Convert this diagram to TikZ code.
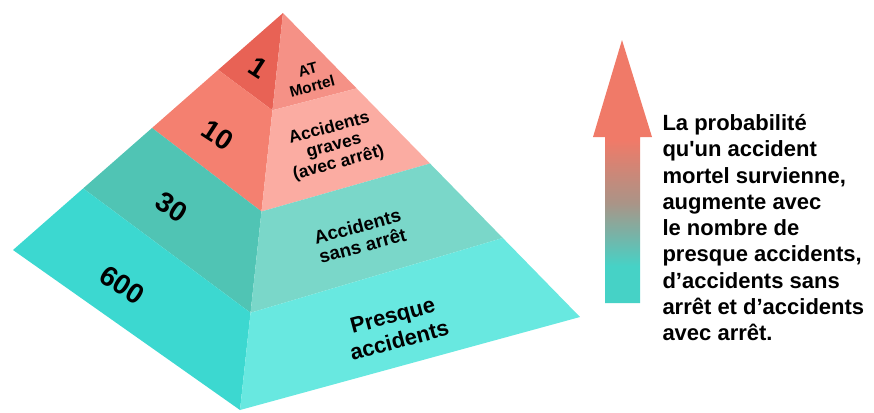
\documentclass[tikz,border=0pt]{standalone}
\usepackage{fontspec}
\setmainfont{Liberation Sans}
\usepackage{tikz}
\usetikzlibrary{calc}
\tikzset{every picture/.style={line width=0.75pt}}

\definecolor{topL}{RGB}{232,98,85}
\definecolor{topR}{RGB}{245,145,134}
\definecolor{graveL}{RGB}{244,128,112}
\definecolor{graveR}{RGB}{251,172,162}
\definecolor{sansL}{RGB}{80,196,180}
\definecolor{sansR}{RGB}{122,215,201}
\definecolor{presqueL}{RGB}{60,216,208}
\definecolor{presqueR}{RGB}{104,232,224}
\definecolor{arrowtop}{RGB}{240,122,104}
\definecolor{arrowmid}{RGB}{170,148,135}
\definecolor{arrowbot}{RGB}{70,210,198}

\pgfdeclareverticalshading{probashade}{100bp}{color(0bp)=(arrowbot); color(32bp)=(arrowbot); color(44bp)=(arrowmid); color(56bp)=(arrowtop); color(100bp)=(arrowtop)}

\tikzset{
  numlabel/.style={font=\bfseries\fontsize{21}{24}\selectfont, rotate=-33},
  facelabel/.style 2 args={font=\bfseries\fontsize{#1}{#2}\selectfont, align=center, rotate=15, inner sep=0pt},
}

\begin{document}
\begin{tikzpicture}[x=0.75pt,y=0.75pt,yscale=-1,xscale=1]
		\path[use as bounding box] (0,0) rectangle (874,412);
		
		%corners of the pyramid
		\coordinate (apex) at (283,13);
		\coordinate (left) at (13,250);
		\coordinate (bottom) at (240,410);
		\coordinate (right) at (580,317);
		
		%level points on the three edges
		\coordinate (l1) at ($(apex)!0.24!(left)$);
		\coordinate (m1) at ($(apex)!0.245!(bottom)$);
		\coordinate (r1) at ($(apex)!0.248!(right)$);
		\coordinate (l2) at ($(apex)!0.485!(left)$);
		\coordinate (m2) at ($(apex)!0.50!(bottom)$);
		\coordinate (r2) at ($(apex)!0.495!(right)$);
		\coordinate (l3) at ($(apex)!0.74!(left)$);
		\coordinate (m3) at ($(apex)!0.755!(bottom)$);
		\coordinate (r3) at ($(apex)!0.74!(right)$);
		
		%Shape: left face, levels
		\fill [topL] (apex) -- (l1) -- (m1) -- cycle ;
		\fill [graveL] (l1) -- (l2) -- (m2) -- (m1) -- cycle ;
		\fill [sansL] (l2) -- (l3) -- (m3) -- (m2) -- cycle ;
		\fill [presqueL] (l3) -- (left) -- (bottom) -- (m3) -- cycle ;
		
		%Shape: right face, levels
		\fill [topR] (apex) -- (m1) -- (r1) -- cycle ;
		\fill [graveR] (m1) -- (m2) -- (r2) -- (r1) -- cycle ;
		\fill [sansR] (m2) -- (m3) -- (r3) -- (r2) -- cycle ;
		\fill [presqueR] (m3) -- (bottom) -- (right) -- (r3) -- cycle ;
		
		% Text Node
		\node (n1) [numlabel] at (258,68) {1};
		% Text Node
		\node (n10) [numlabel] at (218,135) {10};
		% Text Node
		\node (n30) [numlabel] at (172,207) {30};
		% Text Node
		\node (n600) [numlabel] at (122,285) {600};
		
		% Text Node
		\node (mortel) [facelabel={11.5}{13}] at (310,78) {AT\\Mortel};
		% Text Node
		\node (graves) [facelabel={13}{13.5}] at (334,146) {Accidents\\graves\\(avec arrêt)};
		% Text Node
		\node (sans) [facelabel={14}{15}] at (360,236) {Accidents\\sans arrêt};
		% Text Node
		\node (presque) [facelabel={16.5}{19.5}] at (396,328) {Presque\\accidents};
		
		%Shape: gradient arrow
		\shade [shading=probashade] (622,40) -- (652,137) -- (640,137) -- (640,303) -- (605,303) -- (605,137) -- (593,137) -- cycle ;
		
		% Text Node
		\node (proba) [anchor=north west, align=left, inner sep=0pt, font=\bfseries\fontsize{16.5}{19.7}\selectfont] at (662,114) {La probabilité\\qu\textquotesingle un accident\\mortel survienne,\\augmente avec\\le nombre de\\presque accidents,\\d’accidents sans\\arrêt et d’accidents\\avec arrêt.};
		
		\end{tikzpicture}
\end{document}
